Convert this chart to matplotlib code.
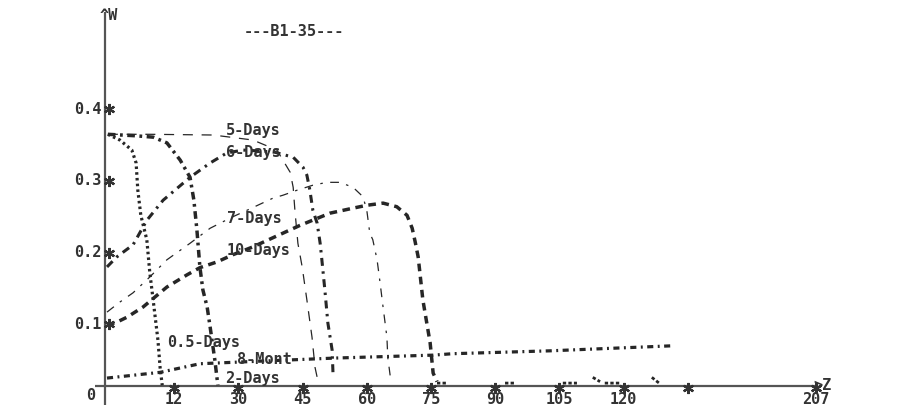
import numpy as np
import matplotlib
matplotlib.use("Agg")
import matplotlib.pyplot as plt

# ---------------- data (x in Z units, y in W units) ----------------
x_05d = [-0.5, 2.3, 5.1, 6.1, 6.5, 7.2, 8.6, 9.3, 10.0, 11.2, 11.7, 12.2]
y_05d = [0.365, 0.357, 0.343, 0.325, 0.287, 0.252, 0.218, 0.172, 0.138, 0.078, 0.040, 0.015]

x_2d = [-0.5, 5.8, 10.1, 13.3, 16.4, 18.7, 19.6, 20.3, 21.0, 21.7, 22.7, 23.4, 24.5, 25.2]
y_2d = [0.365, 0.363, 0.361, 0.353, 0.329, 0.305, 0.273, 0.232, 0.180, 0.148, 0.124, 0.096, 0.050, 0.015]

x_5d = [-0.5, 9.3, 24.1, 33.4, 39.0, 42.1, 42.8, 43.2, 43.9, 44.9, 46.0, 47.2, 47.9, 48.8]
y_5d = [0.365, 0.365, 0.364, 0.357, 0.343, 0.312, 0.291, 0.259, 0.213, 0.180, 0.134, 0.082, 0.040, 0.015]

x_6d = [-0.7, 1.6, 5.4, 8.6, 12.4, 18.7, 23.4, 27.3, 31.1, 34.3, 38.5, 42.8, 45.1, 46.0,
        46.7, 47.4, 48.4, 49.1, 49.5, 50.2, 50.9, 51.9, 52.1]
y_6d = [0.180, 0.194, 0.211, 0.245, 0.273, 0.305, 0.325, 0.339, 0.343, 0.342, 0.340, 0.333, 0.319, 0.308,
        0.287, 0.259, 0.241, 0.213, 0.190, 0.148, 0.102, 0.064, 0.032]

x_7d = [-0.7, 2.3, 5.4, 9.3, 13.3, 18.7, 23.4, 28.7, 32.0, 38.1, 40.4, 43.7, 47.4, 50.7, 53.7,
        56.8, 59.1, 60.0, 60.7, 61.4, 62.4, 63.1, 63.8, 64.7, 64.9, 65.6]
y_7d = [0.117, 0.131, 0.144, 0.166, 0.190, 0.213, 0.234, 0.250, 0.259, 0.276, 0.280, 0.287, 0.294, 0.298, 0.298,
        0.291, 0.278, 0.259, 0.227, 0.218, 0.190, 0.158, 0.124, 0.082, 0.054, 0.022]

x_10d = [-0.7, 1.6, 4.0, 7.7, 13.3, 18.0, 21.0, 25.0, 28.7, 33.4, 44.4, 51.4, 56.8, 60.0,
         63.8, 67.0, 69.4, 70.6, 71.3, 72.0, 73.1, 74.8, 75.5, 76.4]
y_10d = [0.099, 0.103, 0.110, 0.124, 0.152, 0.169, 0.179, 0.187, 0.197, 0.208, 0.238, 0.255, 0.262, 0.266,
         0.269, 0.264, 0.252, 0.234, 0.215, 0.194, 0.134, 0.074, 0.032, 0.020]

x_8m = [-0.7, 11.7, 21.0, 36.7, 53.0, 75.5, 80.1, 102.8, 131.3]
y_8m = [0.025, 0.033, 0.045, 0.049, 0.053, 0.057, 0.059, 0.063, 0.070]

# small residual traces near the Z axis
x_tr = [76.4, 78.7, np.nan, 92.3, 94.6, np.nan, 105.8, 109.1, np.nan, 112.8, 114.5, np.nan,
        115.6, 119.1, np.nan, 126.6, 128.5]
y_tr = [0.018, 0.018, np.nan, 0.018, 0.018, np.nan, 0.018, 0.018, np.nan, 0.026, 0.020, np.nan,
        0.018, 0.018, np.nan, 0.026, 0.017]

x_ticks = [15, 30, 45, 60, 75, 90, 105, 120, 135, 165]
x_tick_labels = ['12', '30', '45', '60', '75', '90', '105', '120', '', '207']
y_ticks = [0.1, 0.2, 0.3, 0.4]
y_tick_labels = ['0.1', '0.2', '0.3', '0.4']

curve_labels = ['5-Days', '6-Days', '7-Days', '10-Days', '0.5-Days', '8-Mont', '2-Days']
title_text = '---B1-35---'

# ---------------- layout ----------------
W_PX, H_PX = 906, 405
XS = 15 / 64.2          # Z units per pixel
YS = 1 / 717.0          # W units per pixel
X0_PX, Y0_PX = 110, 396  # pixel of data origin


def px(xp):
    return (xp - X0_PX) * XS


def py(yp):
    return (Y0_PX - yp) * YS


fig = plt.figure(figsize=(W_PX / 100, H_PX / 100), dpi=100)
fig.patch.set_facecolor('white')
ax = fig.add_axes([0, 0, 1, 1])
ax.set_xlim(px(0), px(W_PX))
ax.set_ylim(py(H_PX), py(0))
ax.axis('off')

ink = '#262626'
axis_col = '#555555'
font = dict(family='DejaVu Sans Mono', weight='bold', size=11, color='#333333')

# axes lines
ax.plot([px(105), px(105)], [py(405), py(12)], color=axis_col, lw=1.6, solid_capstyle='butt')
ax.plot([px(95), px(816)], [py(386), py(386)], color=axis_col, lw=1.6, solid_capstyle='butt')

# curves
ax.plot(x_05d, y_05d, color=ink, lw=2.3, linestyle=(0, (0.8, 1.0)))
ax.plot(x_2d, y_2d, color=ink, lw=2.5, linestyle=(0, (2.2, 1.3, 0.8, 1.3)))
ax.plot(x_5d, y_5d, color=ink, lw=0.9, linestyle=(0, (8, 7)))
ax.plot(x_6d, y_6d, color=ink, lw=2.2, linestyle=(0, (2.6, 1.8, 0.8, 1.8)))
ax.plot(x_7d, y_7d, color=ink, lw=0.9, linestyle=(0, (7, 6, 2, 6)))
ax.plot(x_10d, y_10d, color=ink, lw=2.5, linestyle=(0, (2.2, 1.6)))
ax.plot(x_8m, y_8m, color=ink, lw=2.3, linestyle=(0, (1.9, 1.4, 0.6, 1.4)))
ax.plot(x_tr, y_tr, color=ink, lw=2.0, linestyle=(0, (1.2, 0.8)))

# ticks (asterisks)
star = (6, 2, 0)
ax.plot(x_ticks, [py(388)] * len(x_ticks), linestyle='none', marker=star,
        ms=8, mew=1.6, color='#333333')
ax.plot([px(109)] * len(y_ticks), y_ticks, linestyle='none', marker=star,
        ms=8, mew=1.6, color='#333333')

for xv, lab in zip(x_ticks, x_tick_labels):
    ax.text(xv, py(399), lab, ha='center', va='center', **font)
for yv, lab in zip(y_ticks, y_tick_labels):
    ax.text(px(101), yv, lab, ha='right', va='center', **font)

ax.text(px(91), py(396), '0', ha='center', va='center', **font)
ax.text(px(813), py(385), '>Z', ha='left', va='center', **font)
ax.text(px(100), py(15), '^W', ha='left', va='center', **font)
ax.text(px(294), py(32), title_text, ha='center', va='center', **font)

label_pos = [(226, 130), (226, 153), (227, 218), (227, 251), (167, 343), (237, 360), (225, 378)]
for lab, (lx, ly) in zip(curve_labels, label_pos):
    ax.text(px(lx), py(ly), lab, ha='left', va='center', **font)

fig.savefig('out.png', dpi=100, facecolor='white')
